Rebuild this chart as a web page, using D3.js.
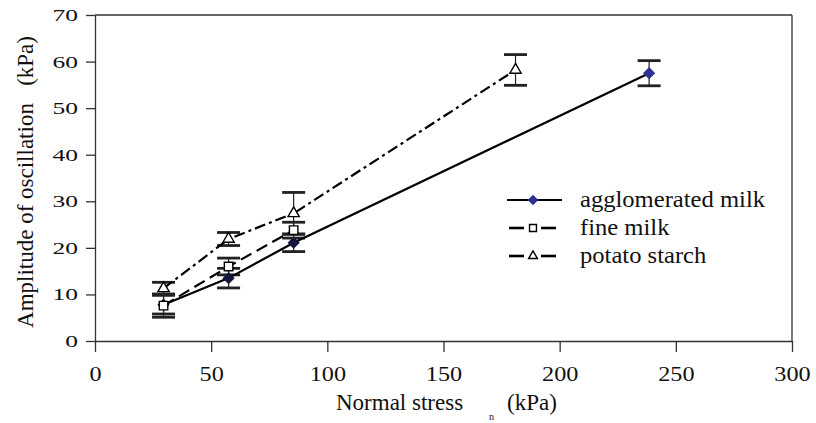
<!DOCTYPE html>
<html>
<head>
<meta charset="utf-8">
<script src="https://cdn.jsdelivr.net/npm/d3@7"></script>
<style>
  body { margin: 0; background: #fff; }
  svg { display: block; }
</style>
</head>
<body>
<div id="chart"></div>
<script>
// ---------------------------------------------
// ---------        Data               ---------
// ---------------------------------------------

var seriesNames = ["agglomerated milk", "fine milk", "potato starch"];

var stressAgglomerated = [29.5, 57.5, 85.5, 238.5];
var ampAgglomerated    = [7.8, 13.5, 21.1, 57.5];
var errAgglomerated    = [2.0, 2.1, 1.9, 2.7];

var stressFine = [29.5, 57.5, 85.5];
var ampFine    = [7.6, 16.0, 23.8];
var errFine    = [2.5, 1.8, 1.7];

var stressPotato = [29.5, 57.5, 85.5, 181];
var ampPotato    = [11.3, 21.9, 27.4, 58.2];
var errPotato    = [1.3, 1.4, 4.5, 3.3];

var xTicks = [0, 50, 100, 150, 200, 250, 300];
var yTicks = [0, 10, 20, 30, 40, 50, 60, 70];

// ---------------------------------------------
// ---------    Basic Chart Layout      --------
// ---------------------------------------------

var width = 816, height = 423;
var margin = {left: 95, right: 24, top: 15, bottom: 82};
var w = width - margin.left - margin.right;
var h = height - margin.top - margin.bottom;
var axisColor = "#333";
var serif = "'Liberation Serif', 'Times New Roman', serif";

var svg = d3.select("#chart")
  .append("svg")
    .attr("width", width)
    .attr("height", height);

var g = svg.append("g")
  .attr("transform", "translate(" + margin.left + "," + margin.top + ")");

var x = d3.scaleLinear().domain([0, 300]).range([0, w]);
var y = d3.scaleLinear().domain([0, 70]).range([h, 0]);

// frame: top and right border
g.append("line")
  .attr("x1", 0).attr("x2", w).attr("y1", 0).attr("y2", 0)
  .attr("stroke", axisColor).attr("stroke-width", 1.3);
g.append("line")
  .attr("x1", w).attr("x2", w).attr("y1", 0).attr("y2", h)
  .attr("stroke", axisColor).attr("stroke-width", 1.3);

// Y axis (labels are wide in the scan, so scale them in x)
var ySx = 1.5;
var yAxis = g.append("g")
  .call(d3.axisLeft(y).tickValues(yTicks).tickSize(9).tickPadding(8).tickSizeOuter(0));
yAxis.select(".domain").attr("stroke", axisColor).attr("stroke-width", 1.3);
yAxis.selectAll(".tick line").attr("stroke", axisColor).attr("stroke-width", 1.3);
yAxis.selectAll(".tick text")
  .style("font-family", serif)
  .style("font-size", "17px")
  .attr("fill", "#111")
  .attr("x", -17 / ySx)
  .attr("transform", "scale(" + ySx + ",1)");

// X axis
var xSx = 1.1;
var xAxis = g.append("g")
  .attr("transform", "translate(0," + h + ")")
  .call(d3.axisBottom(x).tickValues(xTicks).tickSize(11).tickPadding(13).tickSizeOuter(0));
xAxis.select(".domain").attr("stroke", axisColor).attr("stroke-width", 1.3);
xAxis.selectAll(".tick line").attr("stroke", axisColor).attr("stroke-width", 1.3);
xAxis.selectAll(".tick text")
  .style("font-family", serif)
  .style("font-size", "22px")
  .attr("fill", "#111")
  .attr("transform", "scale(" + xSx + ",1)");

// Axis titles
svg.append("text")
  .attr("transform", "translate(33," + (margin.top + h / 2 + 4) + ") rotate(-90)")
  .attr("text-anchor", "middle")
  .style("font-family", serif)
  .style("font-size", "23px")
  .attr("fill", "#111")
  .style("white-space", "pre")
  .text("Amplitude of oscillation   (kPa)");

svg.append("text")
  .attr("x", 336).attr("y", 410)
  .style("font-family", serif).style("font-size", "23px")
  .attr("fill", "#111")
  .text("Normal stress");
svg.append("text")
  .attr("x", 489).attr("y", 420)
  .style("font-family", serif).style("font-size", "10px")
  .attr("fill", "#111")
  .text("n");
svg.append("text")
  .attr("x", 507).attr("y", 410)
  .style("font-family", serif).style("font-size", "23px")
  .attr("fill", "#111")
  .text("(kPa)");

// ---------------------------------------------
// ---------       Chart Data           --------
// ---------------------------------------------

function makeSeries(xs, ys, es) {
  return xs.map(function(d, i) { return {x: d, y: ys[i], e: es[i], i: i}; });
}

var series = [
  {name: seriesNames[0], data: makeSeries(stressAgglomerated, ampAgglomerated, errAgglomerated), dash: null, symbol: "diamond"},
  {name: seriesNames[1], data: makeSeries(stressFine, ampFine, errFine), dash: "12,6", symbol: "square"},
  {name: seriesNames[2], data: makeSeries(stressPotato, ampPotato, errPotato), dash: "11,4,3,4", symbol: "triangle"}
];

var line = d3.line().x(function(d) { return x(d.x); }).y(function(d) { return y(d.y); });

// error bars
series.forEach(function(s) {
  var eb = g.append("g").selectAll("g").data(s.data).join("g");
  eb.append("line")
    .attr("x1", function(d) { return x(d.x); })
    .attr("x2", function(d) { return x(d.x); })
    .attr("y1", function(d) { return y(d.y - d.e); })
    .attr("y2", function(d) { return y(d.y + d.e); })
    .attr("stroke", "#222").attr("stroke-width", 1.2);
  [-1, 1].forEach(function(sign) {
    eb.append("line")
      .attr("x1", function(d) { return x(d.x) - 11.5; })
      .attr("x2", function(d) { return x(d.x) + 11.5; })
      .attr("y1", function(d) { return y(d.y + sign * d.e); })
      .attr("y2", function(d) { return y(d.y + sign * d.e); })
      .attr("stroke", "#222").attr("stroke-width", 2.8);
  });
});

// lines
series.forEach(function(s) {
  g.append("path")
    .datum(s.data)
    .attr("d", line)
    .attr("fill", "none")
    .attr("stroke", "#000")
    .attr("stroke-width", 2.2)
    .attr("stroke-dasharray", s.dash);
});

// markers
function drawMarker(sel, type, big) {
  if (type === "diamond") {
    sel.append("path")
      .attr("d", d3.symbol().type(d3.symbolDiamond2).size(big ? 95 : 70))
      .attr("fill", function(d) { return d && d.i < 3 ? "#15163f" : "#2e3192"; });
  } else if (type === "square") {
    sel.append("path")
      .attr("d", d3.symbol().type(d3.symbolSquare).size(big ? 72 : 48))
      .attr("fill", "#fff").attr("stroke", "#000").attr("stroke-width", 1.4);
  } else {
    sel.append("path")
      .attr("d", d3.symbol().type(d3.symbolTriangle).size(big ? 55 : 34))
      .attr("fill", "#fff").attr("stroke", "#000").attr("stroke-width", 1.4);
  }
}

series.forEach(function(s) {
  var m = g.append("g").selectAll("g").data(s.data).join("g")
    .attr("transform", function(d) { return "translate(" + x(d.x) + "," + y(d.y) + ")"; });
  drawMarker(m, s.symbol, true);
});

// legend
var legendX = 507, legendY = 200, legendStep = 28, legendSx = 1.07;
var legend = svg.selectAll(".legend")
  .data(series)
  .join("g")
  .attr("class", "legend")
  .attr("transform", function(d, i) { return "translate(" + legendX + "," + (legendY + i * legendStep) + ")"; });

legend.each(function(s, i) {
  var lg = d3.select(this);
  if (i === 0) {
    lg.append("line").attr("x1", 0).attr("x2", 55).attr("y1", 0).attr("y2", 0)
      .attr("stroke", "#000").attr("stroke-width", 2.2);
  } else {
    lg.append("line").attr("x1", 2).attr("x2", 17).attr("y1", 0).attr("y2", 0)
      .attr("stroke", "#000").attr("stroke-width", 2.6);
    lg.append("line").attr("x1", 34).attr("x2", 49).attr("y1", 0).attr("y2", 0)
      .attr("stroke", "#000").attr("stroke-width", 2.6);
  }
  var mk = lg.append("g").attr("transform", "translate(26,0)").datum(null);
  drawMarker(mk, s.symbol, false);
  lg.append("text")
    .attr("x", 73 / legendSx)
    .attr("y", 7)
    .attr("transform", "scale(" + legendSx + ",1)")
    .style("font-family", serif)
    .style("font-size", "23px")
    .attr("fill", "#111")
    .text(s.name);
});
</script>
</body>
</html>
